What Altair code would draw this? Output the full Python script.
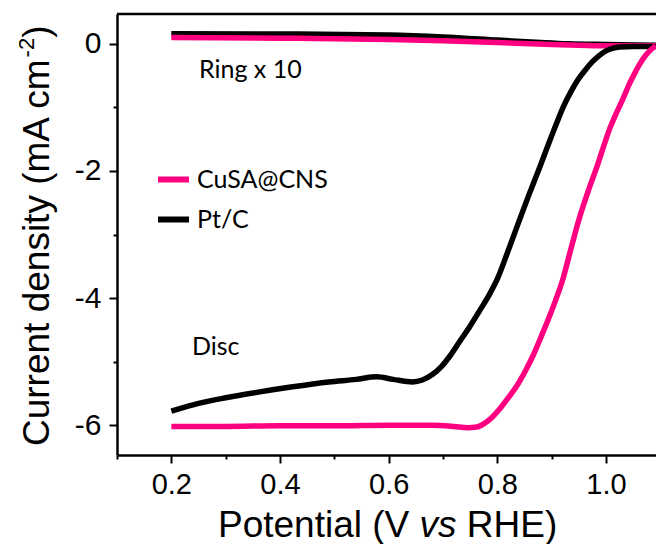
import altair as alt
import pandas as pd

# ---------------- data ----------------
cusa_disc_x = [0.20, 0.30, 0.40, 0.50, 0.60, 0.68, 0.72, 0.745, 0.762, 0.775, 0.79, 0.805, 0.82, 0.836,
               0.852, 0.866, 0.88, 0.894, 0.907, 0.92, 0.935, 0.951, 0.967, 0.983, 0.995, 1.007, 1.019,
               1.031, 1.043, 1.053, 1.062, 1.073, 1.084, 1.092]
cusa_disc_y = [-6.02, -6.02, -6.01, -6.01, -6.00, -6.00, -6.02, -6.04, -6.03, -5.98, -5.88, -5.74, -5.57, -5.38,
               -5.14, -4.90, -4.62, -4.33, -4.04, -3.72, -3.24, -2.74, -2.32, -1.94, -1.63, -1.33, -1.09,
               -0.87, -0.63, -0.46, -0.32, -0.18, -0.08, -0.03]

ptc_disc_x = [0.20, 0.24, 0.30, 0.36, 0.42, 0.49, 0.54, 0.578, 0.608, 0.644, 0.662, 0.681, 0.697, 0.712,
              0.731, 0.75, 0.768, 0.785, 0.80, 0.818, 0.836, 0.857, 0.878, 0.894, 0.909, 0.922, 0.935,
              0.948, 0.962, 0.975, 0.988, 1.00, 1.012, 1.025, 1.05, 1.092]
ptc_disc_y = [-5.78, -5.68, -5.57, -5.48, -5.40, -5.32, -5.28, -5.24, -5.28, -5.32, -5.29, -5.20, -5.08, -4.92,
              -4.68, -4.44, -4.19, -3.95, -3.70, -3.30, -2.88, -2.40, -1.94, -1.58, -1.25, -0.98, -0.76,
              -0.57, -0.41, -0.28, -0.18, -0.11, -0.07, -0.05, -0.04, -0.04]

cusa_ring_x = [0.20, 0.40, 0.60, 0.70, 0.80, 0.90, 0.95, 1.00, 1.092]
cusa_ring_y = [0.10, 0.09, 0.07, 0.05, 0.02, -0.01, -0.02, -0.03, -0.03]

ptc_ring_x = [0.20, 0.40, 0.60, 0.70, 0.80, 0.88, 0.93, 1.00, 1.092]
ptc_ring_y = [0.16, 0.155, 0.14, 0.11, 0.06, 0.02, 0.00, -0.01, -0.02]

series_names = ["CuSA@CNS", "Pt/C"]
series_colors = ["#FF0080", "#000000"]

x_ticks = [0.1, 0.2, 0.3, 0.4, 0.5, 0.6, 0.7, 0.8, 0.9, 1.0]
y_ticks = [-6, -5, -4, -3, -2, -1, 0]

x_title_parts = ["Potential (V", "vs", "RHE)"]
y_title_parts = ["Current density (mA cm", "-2", ")"]
notes = ["Ring x 10", "Disc"]

# ---------------- layout ----------------
W, H = 539, 441
PAD = {"left": 117, "top": 14, "right": 0, "bottom": 89}


def frame(xs, ys, sample, part):
    return pd.DataFrame({"E": xs, "j": ys, "sample": sample, "part": part})


layers_data = [
    frame(ptc_ring_x, ptc_ring_y, "Pt/C", "ring"),
    frame(cusa_ring_x, cusa_ring_y, "CuSA@CNS", "ring"),
    frame(ptc_disc_x, ptc_disc_y, "Pt/C", "disc"),
    frame(cusa_disc_x, cusa_disc_y, "CuSA@CNS", "disc"),
]

x_enc = alt.X(
    "E:Q",
    scale=alt.Scale(domain=[0.1, 1.092], nice=False, zero=False),
    axis=alt.Axis(
        values=x_ticks,
        labelExpr="round(datum.value*10) % 2 == 0 ? format(datum.value, '.1f') : ''",
        tickSize={"condition": {"test": "round(datum.value*10) % 2 == 1", "value": 4}, "value": 8},
        title=None, grid=False,
        domainColor="black", domainWidth=2.5, tickColor="black", tickWidth=2,
        labelFont="Liberation Sans", labelFontSize=29, labelColor="black",
        labelPadding=7, labelOverlap=False, labelFlush=False,
    ),
)
y_enc = alt.Y(
    "j:Q",
    scale=alt.Scale(domain=[-6.47, 0.47], nice=False, zero=False),
    axis=alt.Axis(
        values=y_ticks,
        labelExpr="abs(round(datum.value)) % 2 == 0 ? '' + round(datum.value) : ''",
        tickSize={"condition": {"test": "abs(round(datum.value)) % 2 == 1", "value": 4}, "value": 8},
        title=None, grid=False,
        domainColor="black", domainWidth=2.5, tickColor="black", tickWidth=2,
        labelFont="Liberation Sans", labelFontSize=30, labelColor="black",
        labelPadding=8, labelOverlap=False, labelFlush=False,
    ),
)
color_enc = alt.Color(
    "sample:N",
    scale=alt.Scale(domain=series_names, range=series_colors),
    legend=alt.Legend(
        orient="none", legendX=38, legendY=147, title=None,
        symbolType="stroke", symbolSize=961, symbolStrokeWidth=6,
        labelFont="Lato", labelFontSize=25, labelColor="black",
        labelOffset=5, rowPadding=8, padding=0,
    ),
)

line_layers = [
    alt.Chart(d).mark_line(strokeWidth=5.5, interpolate="monotone").encode(
        x=x_enc, y=y_enc, color=color_enc, order=alt.Order("E:Q")
    )
    for d in layers_data
]

one = pd.DataFrame({"k": [0]})

top_border = alt.Chart(one).mark_rule(color="black", strokeWidth=2.5).encode(
    x=alt.value(0), x2=alt.value(W), y=alt.value(0)
)

ring_note = alt.Chart(one).mark_text(font="Lato", fontSize=25, align="left", baseline="alphabetic",
                                     color="black").encode(
    x=alt.value(82), y=alt.value(64), text=alt.value(notes[0]))
disc_note = alt.Chart(one).mark_text(font="Lato", fontSize=25, align="left", baseline="alphabetic",
                                     color="black").encode(
    x=alt.value(75), y=alt.value(341), text=alt.value(notes[1]))

# x title (with italic "vs")
XF = 37
xt0 = 101
xt1 = xt0 + 5.447 * XF
xt2 = xt1 + (1.0 + 0.278) * XF
xty = 523
xt_a = alt.Chart(one).mark_text(font="Liberation Sans", fontSize=XF, align="left", baseline="alphabetic",
                                color="black").encode(x=alt.value(xt0), y=alt.value(xty),
                                                      text=alt.value(x_title_parts[0]))
xt_b = alt.Chart(one).mark_text(font="Liberation Sans", fontSize=XF, fontStyle="italic", align="left",
                                baseline="alphabetic", color="black").encode(
    x=alt.value(xt1), y=alt.value(xty), text=alt.value(x_title_parts[1]))
xt_c = alt.Chart(one).mark_text(font="Liberation Sans", fontSize=XF, align="left", baseline="alphabetic",
                                color="black").encode(x=alt.value(xt2), y=alt.value(xty),
                                                      text=alt.value(x_title_parts[2]))

# y title (rotated, with superscript)
YF = 37
SF = 22
ytx = -68
yt0 = 432
yt1 = yt0 - 10.502 * YF
yt2 = yt1 - 0.889 * SF
yt_a = alt.Chart(one).mark_text(font="Liberation Sans", fontSize=YF, angle=270, align="left",
                                baseline="alphabetic", color="black").encode(
    x=alt.value(ytx), y=alt.value(yt0), text=alt.value(y_title_parts[0]))
yt_b = alt.Chart(one).mark_text(font="Liberation Sans", fontSize=SF, angle=270, align="left",
                                baseline="alphabetic", color="black").encode(
    x=alt.value(ytx - 15), y=alt.value(yt1), text=alt.value(y_title_parts[1]))
yt_c = alt.Chart(one).mark_text(font="Liberation Sans", fontSize=YF, angle=270, align="left",
                                baseline="alphabetic", color="black").encode(
    x=alt.value(ytx), y=alt.value(yt2), text=alt.value(y_title_parts[2]))

chart = alt.layer(
    *line_layers, top_border, ring_note, disc_note, xt_a, xt_b, xt_c, yt_a, yt_b, yt_c
).properties(
    width=W, height=H, autosize=alt.AutoSizeParams(type="none"), padding=PAD, background="white"
).configure_view(stroke=None)

chart.save("out.html", embed_options={"renderer": "svg", "actions": False})
